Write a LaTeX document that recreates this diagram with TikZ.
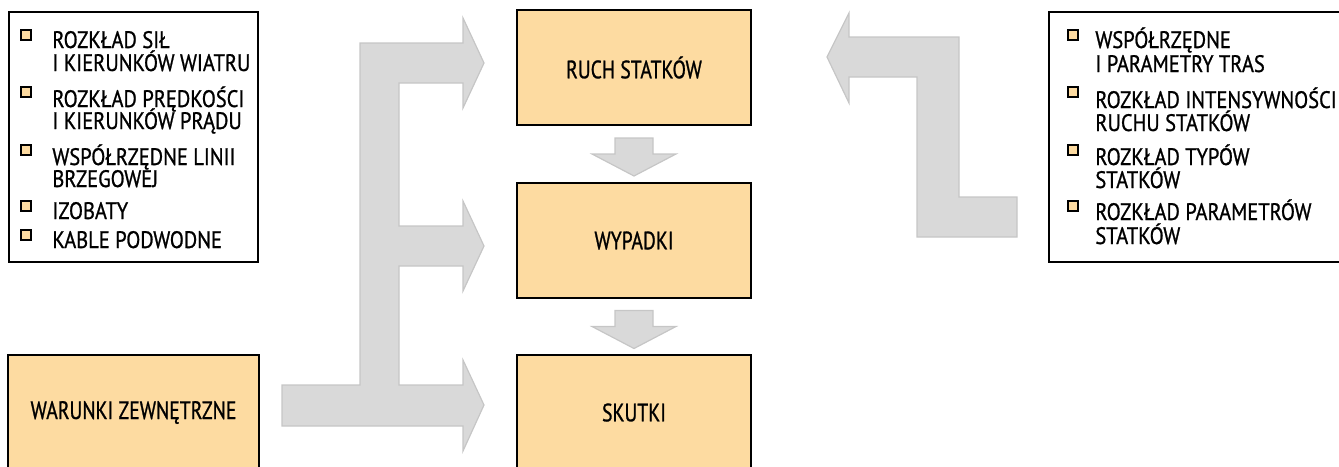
\documentclass[tikz,border=0pt]{standalone}
\usepackage{fontspec}
\setmainfont{PT Sans}[FakeStretch=0.8, FakeBold=0.9]
\newfontfamily\boxfont{PT Sans}[FakeStretch=0.78, FakeBold=0.9]
\newfontfamily\listfont{PT Sans}[FakeStretch=0.86, FakeBold=0.9]
\usetikzlibrary{positioning,calc}
\definecolor{boxfill}{HTML}{FDDBA1}
\definecolor{arrowfill}{HTML}{D9D9D9}
\definecolor{arrowline}{HTML}{C6C6C6}
\tikzset{
  box/.style={draw=black, line width=1pt, fill=boxfill, minimum width=117pt,
    minimum height=57.5pt, inner sep=0pt, font=\boxfont\fontsize{12.6}{13}\selectfont},
  listbox/.style={draw=black, line width=1pt, fill=white, minimum height=125pt, inner sep=0pt},
  bullet/.style={draw=black, line width=1pt, fill=boxfill, minimum size=5.2pt, inner sep=0pt},
  listtext/.style={anchor=base west, inner sep=0pt, font=\listfont\fontsize{11.9}{12}\selectfont},
  fatarrow/.style={fill=arrowfill, draw=arrowline, line width=0.6pt, line join=miter},
  downarrow/.pic={\path[fatarrow] (-19,-16) -- (19,-16) -- (19,0) -- (42,0) -- (0,22)
    -- (-42,0) -- (-19,0) -- cycle;},
}
\begin{document}
\begin{tikzpicture}[x=0.5pt, y=-0.5pt]
  \useasboundingbox (0,0) rectangle (1339,466);
  \clip (0,0) rectangle (1339,466);

  % Drawing the main chain
  \node[box] (ruch) at (634,67.5) {RUCH STATKÓW};
  \node[box] (wypadki) at (634,240.5) {WYPADKI};
  \node[box] (skutki) at (634,412.5) {SKUTKI};
  \node[box, minimum width=125.5pt] (warunki) at (133.5,412.5) {WARUNKI ZEWNĘTRZNE};

  % Drawing arrows between the chain
  \pic (d1) at ($(ruch.south)!0.5!(wypadki.north)$) {downarrow};
  \pic (d2) at ($(wypadki.south)!0.5!(skutki.north)$) {downarrow};

  % Drawing arrow from external conditions
  \path[fatarrow] (282,385) -- (360,385) -- (360,43) -- (463,43) -- (463,18) -- (484,63)
    -- (463,108) -- (463,83) -- (399,83) -- (399,226) -- (463,226) -- (463,201) -- (484,246)
    -- (463,291) -- (463,266) -- (399,266) -- (399,385) -- (463,385) -- (463,360) -- (484,405)
    -- (463,451) -- (463,426) -- (282,426) -- cycle;

  % Drawing arrow from traffic data
  \path[fatarrow] (827,57) -- (849,13) -- (849,37) -- (959,37) -- (959,197) -- (1017,197)
    -- (1017,237) -- (917,237) -- (917,77) -- (849,77) -- (849,103) -- cycle;

  % Marking list of environment data
  \node[listbox, minimum width=124.5pt] (env) at (133.5,137) {};
  \foreach \y [count=\i] in {35,92,150,206,235}
    \node[bullet] (lb\i) at (26,\y) {};
  \foreach \y/\txt [count=\i] in {48/ROZKŁAD SIŁ, 71/I KIERUNKÓW WIATRU,
      107/ROZKŁAD PRĘDKOŚCI, 129/I KIERUNKÓW PRĄDU, 165/WSPÓŁRZĘDNE LINII,
      187/BRZEGOWEJ, 219/IZOBATY, 248/KABLE PODWODNE}
    \node[listtext] (lt\i) at (52,\y) {\txt};

  % Marking list of traffic data
  \node[listbox, minimum width=148pt] (traffic) at (1197,137) {};
  \foreach \y [count=\i] in {35,92,150,206}
    \node[bullet] (rb\i) at (1073,\y) {};
  \foreach \y/\txt [count=\i] in {48/WSPÓŁRZĘDNE, 72/I PARAMETRY TRAS,
      108/ROZKŁAD INTENSYWNOŚCI, 131/RUCHU STATKÓW, 165/ROZKŁAD TYPÓW,
      188/STATKÓW, 220/ROZKŁAD PARAMETRÓW, 244/STATKÓW}
    \node[listtext] (rt\i) at (1095,\y) {\txt};
\end{tikzpicture}
\end{document}
